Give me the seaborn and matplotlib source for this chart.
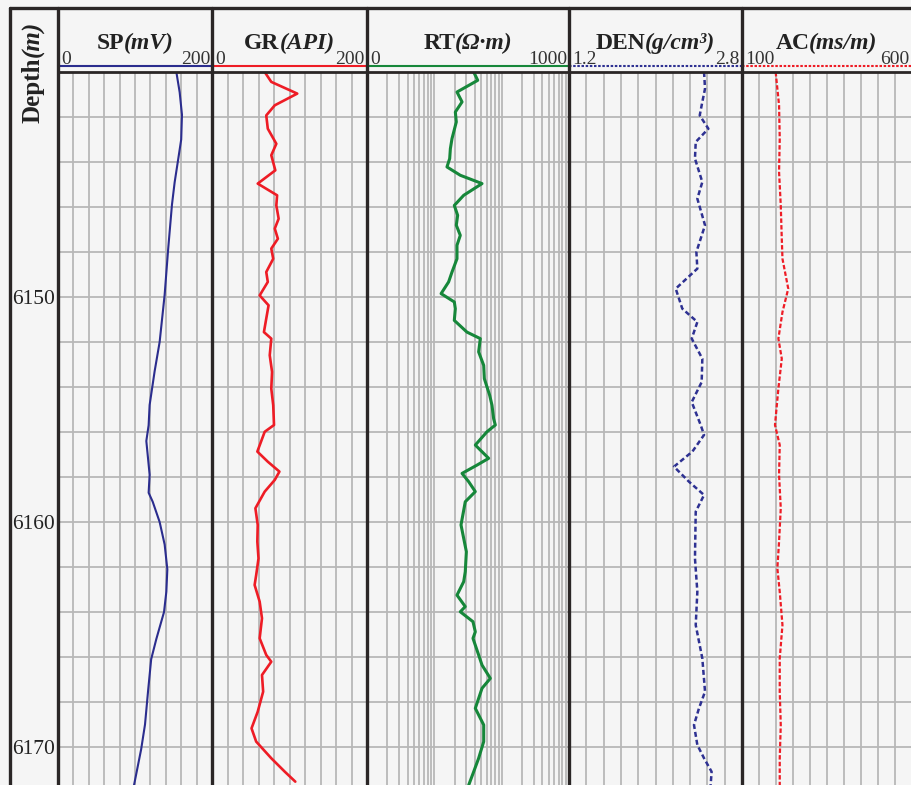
import numpy as np
import pandas as pd
import matplotlib
matplotlib.use("Agg")
import matplotlib.pyplot as plt
from matplotlib.lines import Line2D
import seaborn as sns

# ---------------- data ----------------
sp_depth = [6140.0, 6140.9, 6141.9, 6143.0, 6143.9, 6144.9, 6145.9, 6147.9, 6149.9, 6152.0,
            6153.3, 6154.8, 6155.7, 6156.4, 6157.2, 6157.9, 6158.7, 6159.1, 6160.0, 6161.0,
            6162.1, 6163.1, 6164.0, 6165.2, 6166.1, 6167.5, 6169.0, 6170.1, 6171.7]
sp_values = [153.7, 158, 161, 160, 156, 151.5, 148, 143, 138.5, 132,
             125.5, 119, 117.7, 114.7, 117, 119, 117.7, 123, 132, 138.5,
             142, 140.7, 137.7, 127.7, 121, 117, 113, 108, 98.7]

gr_depth = [6140.0, 6140.44, 6140.96, 6141.48, 6141.93, 6142.52, 6143.19, 6143.70, 6144.37, 6144.96,
            6145.48, 6145.93, 6146.52, 6146.96, 6147.41, 6147.85, 6148.30, 6148.89, 6149.33, 6149.93,
            6150.37, 6150.96, 6151.56, 6151.85, 6152.59, 6153.33, 6154.07, 6154.81,
            6155.69, 6155.99, 6156.87, 6157.32, 6157.76, 6158.13, 6158.65, 6159.39, 6160.13, 6160.87,
            6161.62, 6162.36, 6162.80, 6163.54, 6164.28, 6165.17, 6165.91, 6166.21, 6166.80, 6167.54,
            6168.43, 6169.17, 6169.76, 6170.50, 6171.10, 6171.54]
gr_values = [68, 76.5, 110, 81, 70, 72, 83, 76.5, 81.7, 59,
             84, 83, 86, 81, 85, 76.5, 79, 70, 72, 61.5,
             73, 70, 67, 76.5, 74.5, 77.5, 76.5, 79,
             80, 68, 58.5, 72, 87, 81, 68, 56, 59, 58.5,
             60, 57, 55, 61.5, 64.5, 61.5, 70, 76.5, 64.5, 66,
             59, 51, 57, 76.5, 94, 107.5]

rt_depth = [6140.00, 6140.37, 6140.89, 6141.33, 6141.78, 6142.22, 6142.96, 6143.41, 6143.85, 6144.22,
            6144.59, 6144.96, 6145.48, 6145.93, 6146.37, 6146.81, 6147.26, 6147.70, 6148.30, 6148.89,
            6149.33, 6149.85, 6150.22, 6150.52, 6151.04, 6151.56, 6151.85, 6152.44, 6153.04, 6153.63,
            6154.37, 6154.81, 6155.41,
            6155.69, 6155.99, 6156.58, 6157.17, 6157.47, 6157.84, 6158.21, 6158.65, 6159.10, 6160.13,
            6161.32, 6162.21, 6162.65, 6163.25, 6163.76, 6163.99, 6164.43, 6164.88, 6165.17, 6165.91,
            6166.36, 6166.95, 6167.39, 6168.28, 6169.02, 6169.76, 6170.50, 6171.10, 6171.69]
rt_values = [38.4, 44.1, 21.7, 25.8, 20.5, 21.2, 18.3, 17.3, 16.9, 15.4,
             24.3, 51.1, 27.3, 19.8, 22.2, 21.2, 24.3, 21.7, 21.7, 18.3,
             16.3, 12.6, 19.8, 20.5, 19.8, 30.5, 48.2, 45.5, 54.1, 55.3,
             66.4, 71.8, 76.0,
             80.5, 60.5, 40.6, 64.1, 43.1, 25.8, 32.4, 40.6, 28.8, 24.9,
             29.9, 28.8, 27.3, 21.7, 28.8, 24.3, 37.5, 40.6, 37.5, 45.5,
             51.1, 67.9, 51.1, 40.6, 54.1, 54.1, 45.5, 38.4, 32.4]

den_depth = [6140.00, 6140.74, 6141.33, 6141.93, 6142.52, 6143.11, 6143.85, 6144.89, 6145.63, 6146.81,
             6148.00, 6148.74, 6149.63, 6150.52, 6151.11, 6151.85, 6152.74, 6153.78, 6154.67,
             6155.69, 6156.13, 6156.87, 6157.54, 6158.21, 6158.80, 6159.54, 6161.62, 6163.10, 6164.58,
             6166.06, 6167.54, 6168.28, 6169.02, 6169.91, 6170.50, 6171.10, 6171.69]
den_values = [2.449, 2.458, 2.433, 2.409, 2.489, 2.372, 2.365, 2.433, 2.387, 2.458,
              2.378, 2.387, 2.187, 2.248, 2.387, 2.335, 2.433, 2.427, 2.335,
              2.418, 2.449, 2.341, 2.171, 2.310, 2.449, 2.372, 2.365, 2.387, 2.372,
              2.433, 2.458, 2.402, 2.356, 2.387, 2.449, 2.519, 2.510]

ac_depth = [6140.00, 6141.48, 6142.96, 6144.44, 6145.93, 6147.41, 6148.30, 6149.63, 6150.67, 6151.85,
            6152.74, 6154.07,
            6155.69, 6156.58, 6157.91, 6159.39, 6160.87, 6162.06, 6163.10, 6164.58, 6166.06, 6167.54,
            6169.02, 6170.50, 6171.69]
ac_values = [199, 209, 211, 209, 214, 217, 219, 236, 219, 207,
             217, 207,
             197, 211, 209, 214, 209, 204, 211, 219, 211, 211,
             214, 211, 211]

track_names = ["SP", "GR", "RT", "DEN", "AC"]
track_units = ["(mV)", "(API)", "(Ω·m)", "(g/cm³)", "(ms/m)"]
scale_left = ["0", "0", "0", "1.2", "100"]
scale_right = ["200", "200", "1000", "2.8", "600"]
depth_labels = [6150, 6160, 6170]

# ---------------- style ----------------
sns.set_style("white")
plt.rcParams["font.family"] = ["Liberation Serif", "DejaVu Serif"]

W, H = 911, 785
BG = "#f5f5f5"
GRID = "#b7b7b7"
BORDER = "#2a2626"
TXT = "#222222"

fig = plt.figure(figsize=(W / 100, H / 100), dpi=100, facecolor=BG)
renderer = fig.canvas.get_renderer()


def fx(x):
    return x / W


def fy(y):
    return 1 - y / H


TOP, SCALE_Y, DATA_TOP = 8, 66, 72
D0 = 6140.0
PX_PER_M = 22.5
D1 = D0 + (H - DATA_TOP) / PX_PER_M

bounds = [(58, 212), (212, 367), (367, 569), (569, 742), (742, 912)]
ranges = [(0, 200), (0, 200), (1, 1000), (1.2, 2.8), (100, 600)]
colors = ["#2b2d8e", "#ee1c25", "#16873a", "#2e3192", "#ee1c25"]
lwidths = [1.5, 1.9, 2.2, 1.8, 1.6]
styles = ["-", "-", "-", (0, (2.0, 1.2)), (0, (2.0, 1.0))]
hdr_styles = ["-", "-", "-", (0, (1.2, 0.8)), (0, (1.2, 0.8))]
series = [(sp_depth, sp_values), (gr_depth, gr_values), (rt_depth, rt_values),
          (den_depth, den_values), (ac_depth, ac_values)]


def two_part_title(cx, base_y, bold, italic, size):
    t1 = fig.text(0, 0, bold, fontsize=size, fontweight="bold", color=TXT,
                  ha="left", va="baseline")
    t2 = fig.text(0, 0, italic, fontsize=size, fontweight="bold", fontstyle="italic",
                  color=TXT, ha="left", va="baseline")
    w1 = t1.get_window_extent(renderer).width
    w2 = t2.get_window_extent(renderer).width
    start = cx - (w1 + w2) / 2
    t1.set_position((fx(start), fy(base_y)))
    t2.set_position((fx(start + w1), fy(base_y)))


for i, ((x0, x1), (lo, hi)) in enumerate(zip(bounds, ranges)):
    ax = fig.add_axes([fx(x0), 0, (x1 - x0) / W, (H - DATA_TOP) / H])
    ax.set_facecolor(BG)
    d, v = series[i]
    df = pd.DataFrame({"depth": d, "value": v})
    sns.lineplot(data=df, x="value", y="depth", orient="y", estimator=None,
                 color=colors[i], lw=lwidths[i], linestyle=styles[i], ax=ax, zorder=3)
    if track_names[i] == "RT":
        ax.set_xscale("log")
        ax.set_xticks([1, 10, 100, 1000])
        ax.set_xticks([m * 10 ** e for e in range(3) for m in range(2, 10)], minor=True)
    else:
        ax.set_xticks(np.linspace(lo, hi, 11))
    ax.set_xlim(lo, hi)
    ax.set_ylim(D1, D0)
    yt = np.arange(6140, 6172, 2)
    ax.set_yticks(yt)
    ax.grid(True, which="both", color=GRID, lw=1.3)
    ax.set_axisbelow(True)
    ax.set_xlabel("")
    ax.set_ylabel("")
    for s in ax.spines.values():
        s.set_visible(False)
    ax.tick_params(which="both", length=0, labelbottom=False, labelleft=False)
    if i == 0:
        ax.set_yticklabels([str(t) if t in depth_labels else "" for t in yt])
        ax.tick_params(axis="y", labelleft=True, pad=2, labelsize=15.5, colors=TXT)

    # header
    cx = (x0 + min(x1, W)) / 2
    two_part_title(cx, 49, track_names[i], track_units[i], 17)
    fig.text(fx(x0 + 3), fy(64), scale_left[i], ha="left", va="baseline",
             fontsize=14, color="#333333")
    fig.text(fx(min(x1, W) - 2), fy(64), scale_right[i], ha="right", va="baseline",
             fontsize=14, color="#333333")
    fig.add_artist(Line2D([fx(x0), fx(x1)], [fy(SCALE_Y), fy(SCALE_Y)],
                          transform=fig.transFigure, color=colors[i], lw=1.5,
                          linestyle=hdr_styles[i]))

# depth column title (rotated, two styles, reads bottom to top)
t1 = fig.text(0, 0, "Depth", fontsize=18, fontweight="bold", color=TXT,
              rotation=90, ha="left", va="center", rotation_mode="anchor")
t2 = fig.text(0, 0, "(m)", fontsize=18, fontweight="bold", fontstyle="italic", color=TXT,
              rotation=90, ha="left", va="center", rotation_mode="anchor")
h1 = t1.get_window_extent(renderer).height
h2 = t2.get_window_extent(renderer).height
bottom = 72 + (h1 + h2) / 2
col_x = 33
t1.set_position((fx(col_x), fy(bottom)))
t2.set_position((fx(col_x), fy(bottom - h1)))

# borders
for xb in [10, 58, 212, 367, 569, 742]:
    fig.add_artist(Line2D([fx(xb), fx(xb)], [fy(TOP), 0], transform=fig.transFigure,
                          color=BORDER, lw=2.4, zorder=10))
fig.add_artist(Line2D([fx(10), 1], [fy(TOP), fy(TOP)], transform=fig.transFigure,
                      color=BORDER, lw=2.4, zorder=10))
fig.add_artist(Line2D([fx(58), 1], [fy(DATA_TOP), fy(DATA_TOP)], transform=fig.transFigure,
                      color=BORDER, lw=2.0, zorder=10))

fig.savefig("out.png", dpi=100, facecolor=BG)
